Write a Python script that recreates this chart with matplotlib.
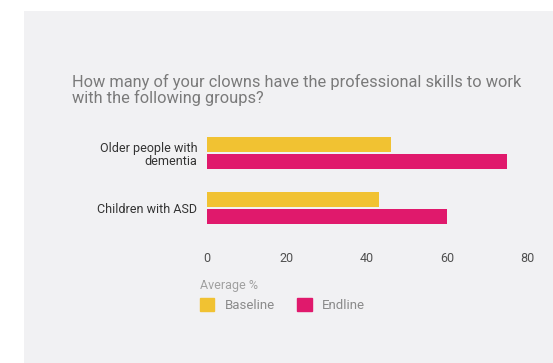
import matplotlib.pyplot as plt
from matplotlib.patches import Rectangle, Patch
import numpy as np

categories = ['Older people with\ndementia', 'Children with ASD']
baseline = [46, 43]
endline = [75, 60]
xticks = [0, 20, 40, 60, 80]

W, H = 553, 363
fig = plt.figure(figsize=(W / 100, H / 100), dpi=100)
fig.patch.set_facecolor('white')
plt.rcParams['font.family'] = ['Roboto', 'DejaVu Sans']

# grey card behind the chart
fig.patches.append(Rectangle((24 / W, 0), 1 - 24 / W, 1 - 11 / H, transform=fig.transFigure,
                             facecolor='#f1f1f3', edgecolor='none', zorder=-5))

# axes in pixel terms
left, right, top, bottom = 207, 527, 128, 234
ax = fig.add_axes([left / W, 1 - bottom / H, (right - left) / W, (bottom - top) / H])
ax.set_facecolor('none')
ax.set_zorder(2)

y = np.arange(len(categories))
h = 0.27
off = 0.16
ax.barh(y - off, baseline, height=h, color='#f1c232', label='Baseline')
ax.barh(y + off, endline, height=h, color='#e0196c', label='Endline')

ax.set_xlim(0, 80)
ax.set_ylim(1.47, -0.455)
ax.set_xticks(xticks)
ax.set_xticklabels([str(t) for t in xticks], fontsize=9, color='#505050')
ax.set_yticks(y)
ax.set_yticklabels(categories, fontsize=9, color='#333333', ha='right', linespacing=1.0)
for lbl in ax.get_yticklabels():
    lbl.set_multialignment('right')
ax.tick_params(axis='x', length=0, pad=13)
ax.tick_params(axis='y', length=0, pad=7)
for s in ax.spines.values():
    s.set_visible(False)

fig.text(72 / W, 1 - 103 / H, 'How many of your clowns have the professional skills to work\nwith the following groups?',
         fontsize=11.8, color='#7a7a7a', ha='left', va='baseline', linespacing=0.98)

handles = [Patch(color='#f1c232'), Patch(color='#e0196c')]
leg = fig.legend(handles, ['Baseline', 'Endline'], ncol=2, title='Average %',
                 loc='upper left', bbox_to_anchor=(197 / W, 1 - 276 / H),
                 frameon=False, fontsize=9.5, title_fontsize=9, alignment='left',
                 handlelength=1.1, handleheight=1.1, handletextpad=0.8, columnspacing=1.7,
                 labelcolor='#8a8a8a', borderaxespad=0, borderpad=0.2)
leg.get_title().set_color('#a0a0a0')

fig.savefig('out.png', dpi=100, facecolor=fig.get_facecolor())
